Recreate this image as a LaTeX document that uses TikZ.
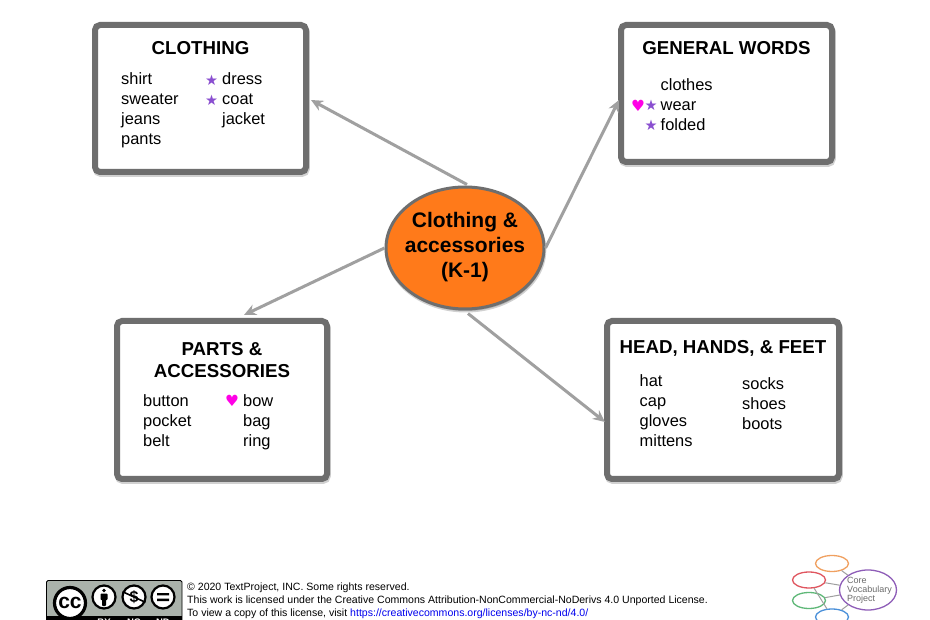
\documentclass[tikz,border=0pt]{standalone}
\usepackage{fontspec}
\setmainfont{Liberation Sans}
\newfontfamily\symfont{DejaVu Sans}
\usetikzlibrary{shadows,calc,arrows.meta,shapes.geometric}
\definecolor{boxgray}{HTML}{6E6E6E}
\definecolor{arrgray}{HTML}{A0A0A0}
\definecolor{hubor}{HTML}{FF7A1A}
\definecolor{starp}{HTML}{8A4FD0}
\definecolor{heartm}{HTML}{FF00E6}
\definecolor{ccgray}{HTML}{AAB2AB}
\definecolor{linkb}{HTML}{0000EE}
\definecolor{lgorange}{HTML}{F0A060}
\definecolor{lgred}{HTML}{E0555F}
\definecolor{lggreen}{HTML}{5FB878}
\definecolor{lgblue}{HTML}{4A90D9}
\definecolor{lgpurple}{HTML}{8E5DB8}
\newcommand{\fs}[2]{\fontsize{#1}{#2}\selectfont}
\newcommand{\hrt}{\textcolor{heartm}{\symfont\fs{15.5}{20}♥}}
\newcommand{\str}{\textcolor{starp}{\symfont\fs{14.5}{20}★}}
\tikzset{
  x=1pt,y=-1pt,
  softshadow/.style={drop shadow={shadow xshift=.8pt,shadow yshift=-2pt,opacity=.18,fill=black,draw=black}},
  topic/.style={draw=boxgray,line width=6pt,fill=white,rounded corners=5pt,inner sep=0pt,softshadow},
  hub/.style={ellipse,draw=boxgray,line width=3pt,fill=hubor,inner sep=0pt,minimum width=158pt,minimum height=122pt,softshadow},
  head/.style={font=\bfseries\fs{18.7}{22},align=center,inner sep=0pt},
  words/.style={font=\fs{16.4}{20},align=left,inner sep=0pt,anchor=north west},
  link/.style={draw=arrgray,line width=3pt,-{Stealth[length=12pt,width=11pt]}},
  foot/.style={font=\fs{10.55}{12.6},inner sep=0pt,anchor=west},
  cring/.style={draw=black,line width=2.2pt,fill=white,circle,inner sep=0pt},
  mini/.style={line width=1.3pt,fill=white,ellipse,draw,inner sep=0pt,minimum width=33pt,minimum height=16pt},
  minilink/.style={draw=gray!75,line width=1pt},
  badgetxt/.style={font=\bfseries\fs{9.5}{10},text=white,inner sep=0pt},
}
\begin{document}
\begin{tikzpicture}
\useasboundingbox (0,0) rectangle (930,620);
\clip (0,0) rectangle (930,620);
\path[fill=white] (0,0) rectangle (930,620);

\node[topic,minimum width=211pt,minimum height=147pt] (clo) at (200.5,98.5) {};
\node[topic,minimum width=211pt,minimum height=137pt] (gen) at (726.5,93.5) {};
\node[topic,minimum width=210pt,minimum height=158pt] (par) at (222,400) {};
\node[topic,minimum width=232pt,minimum height=158pt] (hea) at (723,400) {};
\node[hub] (hub) at (465,248) {};
\node[font=\bfseries\fs{21}{25},align=center,inner sep=0pt] (hubt) at (465,247.5) {Clothing \&\\accessories\\(K-1)};

\node[head] (cloh) at (200.5,48.5) {CLOTHING};
\node[head] (genh) at (726.5,48.5) {GENERAL WORDS};
\node[head] (parh) at (222,360) {PARTS \&\\ACCESSORIES};
\node[head] (heah) at (723,348.5) {HEAD, HANDS, \& FEET};

\node[words] (c1) at (121,72) {shirt\\sweater\\jeans\\pants};
\node[words] (c2) at (222,72) {dress\\coat\\jacket};
\node[inner sep=0pt] (cs1) at (211.5,80) {\str};
\node[inner sep=0pt] (cs2) at (211.5,100) {\str};

\node[words] (g1) at (660.5,78.5) {clothes\\wear\\folded};
\node[inner sep=0pt] (gh) at (638,105.5) {\hrt};
\node[inner sep=0pt] (gs1) at (651,105.5) {\str};
\node[inner sep=0pt] (gs2) at (651,125) {\str};

\node[words] (p1) at (143,394) {button\\pocket\\belt};
\node[words] (p2) at (243,394) {bow\\bag\\ring};
\node[inner sep=0pt] (ph) at (232,401) {\hrt};

\node[words] (h1) at (639.5,374.5) {hat\\cap\\gloves\\mittens};
\node[words] (h2) at (742,377.5) {socks\\shoes\\boots};

\coordinate (s1) at ($(hub.north)+(2,-1)$);
\coordinate (s4) at ($(hub.south)+(3,3)$);
\coordinate (a1) at ($(clo.east)+(2,1.5)$);
\coordinate (a2) at ($(gen.west)+(1,6.5)$);
\coordinate (a3) at ($(par.north)+(22,-3)$);
\coordinate (a4) at ($(hea.west)+(1,22)$);
\path[link] (s1) -- (a1);
\path[link] (hub.east) -- (a2);
\path[link] (hub.west) -- (a3);
\path[link] (s4) -- (a4);

% licence badge
\path[fill=ccgray,draw=black,line width=.8pt,rounded corners=1.5pt] (46.5,580.5) rectangle (182,630);
\path[fill=black] (46.5,616) rectangle (182,630);
\node[cring,line width=3.2pt,minimum size=31pt,font=\bfseries\fs{21}{21}] (cc) at (70,603) {\raisebox{1pt}{cc}};
\node[cring,minimum size=23pt] (ccby) at (104,597) {};
\node[cring,minimum size=23pt,font=\bfseries\fs{16}{16}] (ccnc) at (134,597) {\$};
\node[cring,minimum size=23pt] (ccnd) at (163,597) {};
\path[fill=black] (104,590.5) circle (1.9pt);
\path[fill=black,rounded corners=.8pt] (100.5,593.5) rectangle (107.5,600) (102,599) rectangle (106,606);
\draw[line width=1.6pt] (ccnc.155) -- (ccnc.-25);
\path[fill=black] (157,593) rectangle (169,595.4) (157,598.6) rectangle (169,601);
\node[badgetxt] (tby) at (104,622) {BY};
\node[badgetxt] (tnc) at (134,622) {NC};
\node[badgetxt] (tnd) at (163,622) {ND};

\node[foot] (f1) at (187,588) {© 2020 TextProject, INC. Some rights reserved.};
\node[foot] (f2) at (187,601) {This work is licensed under the Creative Commons Attribution-NonCommercial-NoDerivs 4.0 Unported License.};
\node[foot] (f3) at (187,614.5) {To view a copy of this license, visit \textcolor{linkb}{\underline{https://creativecommons.org/licenses/by-nc-nd/4.0/}}};

% logo
\node[mini,draw=lgorange] (lo) at (832,563.5) {};
\node[mini,draw=lgred] (lr) at (809,580) {};
\node[mini,draw=lggreen] (lg) at (809,600.5) {};
\node[mini,draw=lgblue] (lb) at (832,617) {};
\node[ellipse,draw=lgpurple,line width=1.3pt,fill=white,minimum width=57pt,minimum height=40pt,inner sep=0pt] (lc) at (868,590) {};
\node[font=\fs{9}{8.8},text=gray!85!black,align=left,inner sep=0pt] (lct) at (869.5,590.5) {Core\\Vocabulary\\Project};
\path[minilink] (lo) -- (lc);
\path[minilink] (lr) -- (lc);
\path[minilink] (lg) -- (lc);
\path[minilink] (lb) -- (lc);
\path[minilink] (lr) -- (lb);
\end{tikzpicture}
\end{document}
